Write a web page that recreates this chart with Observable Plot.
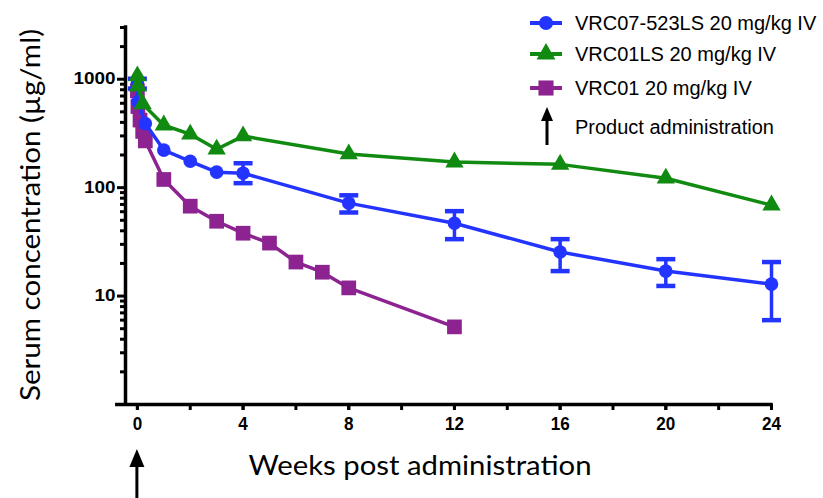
<!DOCTYPE html>
<html><head><meta charset="utf-8">
<script src="https://cdn.jsdelivr.net/npm/d3@7"></script>
<script src="https://cdn.jsdelivr.net/npm/@observablehq/plot@0.6"></script>
<style>body{margin:0;background:#fff}</style>
</head><body><div id="chart"></div>
<script>
// ---- data ----
const seriesNames = ["VRC07-523LS 20 mg/kg IV", "VRC01LS 20 mg/kg IV", "VRC01 20 mg/kg IV"];
const seriesColors = ["#2334ff", "#118a11", "#8c2391"];
const seriesSymbols = ["circle", "triangle", "square"];

const vrc07Weeks  = [0, 0.02, 0.3, 1, 2, 3, 4, 8, 12, 16, 20, 24];
const vrc07Values = [920, 620, 390, 222, 175, 139, 136, 72, 47, 25.5, 17, 12.9];
const vrc07ErrWeeks = [0, 4, 8, 12, 16, 20, 24];
const vrc07ErrLow   = [820, 110, 59, 33.5, 17, 12.4, 6];
const vrc07ErrHigh  = [1010, 168, 85, 60.7, 33.5, 21.9, 20.6];

const vrc01lsWeeks  = [0, 0.02, 0.2, 1, 2, 3, 4, 8, 12, 16, 20, 24];
const vrc01lsValues = [1070, 860, 590, 377, 311, 226, 299, 204, 172, 164, 122, 69];

const vrc01Weeks  = [0, 0.02, 0.1, 0.2, 0.3, 1, 2, 3, 4, 5, 6, 7, 8, 12];
const vrc01Values = [780, 560, 420, 330, 270, 119, 67.5, 49, 38, 30.8, 20.6, 16.6, 11.9, 5.2];

const yMajorTicks = [10, 100, 1000];
const yMinorTicks = [2,3,4,5,6,7,8,9,20,30,40,50,60,70,80,90,200,300,400,500,600,700,800,900,2000,3000];
const xMinorTicks = [0,2,4,6,8,10,12,14,16,18,20,22,24];
const xLabelTicks = [0,4,8,12,16,20,24];

const yTitle = "Serum concentration (µg/ml)";
const xTitle = "Weeks post administration";
const arrowLabel = "Product administration";

// ---- build tables ----
const mk = (name, w, v) => w.map((x, i) => ({series: name, week: x, value: v[i]}));
const seriesRows = [
  mk(seriesNames[0], vrc07Weeks, vrc07Values),
  mk(seriesNames[1], vrc01lsWeeks, vrc01lsValues),
  mk(seriesNames[2], vrc01Weeks, vrc01Values)
];
const errRows = vrc07ErrWeeks.map((w, i) => ({week: w, low: vrc07ErrLow[i], high: vrc07ErrHigh[i]}));
const capRows = errRows.flatMap(d => [{week: d.week, y: d.low}, {week: d.week, y: d.high}]);

const capSymbol = {draw(ctx, size) { const w = Math.sqrt(size / Math.PI); ctx.moveTo(-w, 0); ctx.lineTo(w, 0); }};
const dotR = [6.8, 6.8, 8.3];

const xMin = -0.45, xAxisStart = -0.76;
const drawOrder = [2, 0, 1];
const marks = [];
for (const i of drawOrder) {
  marks.push(Plot.line(seriesRows[i], {x: "week", y: "value", stroke: seriesColors[i], strokeWidth: 3.5}));
  if (i === 0) {
    marks.push(Plot.ruleX(errRows, {x: "week", y1: "low", y2: "high", stroke: seriesColors[0], strokeWidth: 3.5}));
    marks.push(Plot.dot(capRows, {x: "week", y: "y", symbol: capSymbol, r: 9.5, stroke: seriesColors[0], strokeWidth: 4.5, fill: "none"}));
  }
  marks.push(Plot.dot(seriesRows[i], {x: "week", y: "value", symbol: seriesSymbols[i], r: dotR[i], fill: seriesColors[i], stroke: "none"}));
}

const chart = Plot.plot({
  width: 823, height: 498,
  marginLeft: 125, marginRight: 52, marginTop: 27, marginBottom: 94,
  style: {fontFamily: "'Liberation Sans', Arial, sans-serif", background: "#fff", color: "#000"},
  x: {domain: [xMin, 24]},
  y: {type: "log", domain: [1, 3000]},
  marks: [
    Plot.axisY(yMinorTicks, {tickSize: 5, tickFormat: () => "", strokeWidth: 3, label: null}),
    Plot.axisY(yMajorTicks, {tickSize: 8, tickPadding: 2, fontSize: 16, fontWeight: "bold", strokeWidth: 3, tickFormat: d => String(d), label: null}),
    Plot.axisX(xMinorTicks, {tickSize: 6, tickFormat: () => "", strokeWidth: 3, label: null}),
    Plot.axisX(xLabelTicks, {tickSize: 6, tickPadding: 6, fontSize: 19, fontWeight: "bold", strokeWidth: 3, tickFormat: d => String(d), label: null}),
    Plot.ruleX([xMin], {y1: 1, y2: 3000, strokeWidth: 3.5, stroke: "#000"}),
    Plot.ruleY([1], {x1: xAxisStart, x2: 24, strokeWidth: 3.5, stroke: "#000"}),
    ...marks
  ]
});
document.getElementById("chart").appendChild(chart);

const svg = d3.select(chart);
svg.selectAll('g[aria-label="y-axis tick"], g[aria-label="x-axis tick"]').attr("stroke-width", 3).attr("stroke", "#000");
svg.selectAll('g[aria-label="rule"]').filter(function() { return !this.getAttribute("stroke") || this.getAttribute("stroke") === "#000"; })
  .attr("stroke-width", 3.5).attr("stroke-linecap", "square");
svg.selectAll('g[aria-label="y-axis tick label"] text').each(function() {
  const t = this.textContent; if (t) { this.setAttribute("textLength", t.length * 10.5); this.setAttribute("lengthAdjust", "spacingAndGlyphs"); }
});
svg.selectAll('g[aria-label="x-axis tick label"] text').each(function() {
  const t = this.textContent; if (t) { this.setAttribute("textLength", t.length * 9.5); this.setAttribute("lengthAdjust", "spacingAndGlyphs"); }
});

const xs = chart.scale("x");
// axis titles
svg.append("text").attr("transform", "translate(40,215) rotate(-90)").attr("text-anchor", "middle")
  .attr("font-family", "Lato, 'Open Sans', sans-serif").attr("font-size", 27)
  .attr("textLength", 372).attr("lengthAdjust", "spacingAndGlyphs").text(yTitle);
svg.append("text").attr("x", 420).attr("y", 475).attr("text-anchor", "middle")
  .attr("font-family", "Lato, 'Open Sans', sans-serif").attr("font-size", 27)
  .attr("textLength", 343).attr("lengthAdjust", "spacingAndGlyphs").text(xTitle);

// arrow under x = 0
function arrow(g, x, yTip, yEnd, hw, hl) {
  g.append("line").attr("x1", x).attr("x2", x).attr("y1", yTip + hl - 1).attr("y2", yEnd).attr("stroke", "#000").attr("stroke-width", 3);
  g.append("path").attr("d", `M${x},${yTip}L${x - hw},${yTip + hl}L${x + hw},${yTip + hl}Z`).attr("fill", "#000");
}
arrow(svg, xs.apply(0), 449, 498, 7.5, 18);

// legend
const lg = svg.append("g").attr("text-anchor", "start");
const rowY = [23, 54, 88];
const symR = [7, 7, 8.5];
seriesNames.forEach((name, i) => {
  lg.append("line").attr("x1", 530).attr("x2", 562).attr("y1", rowY[i]).attr("y2", rowY[i])
    .attr("stroke", seriesColors[i]).attr("stroke-width", 4);
  lg.append("path").attr("transform", `translate(546,${rowY[i]})`)
    .attr("d", d3.symbol(seriesSymbols[i] === "circle" ? d3.symbolCircle : seriesSymbols[i] === "triangle" ? d3.symbolTriangle : d3.symbolSquare, Math.PI * symR[i] * symR[i])())
    .attr("fill", seriesColors[i]);
  lg.append("text").attr("x", 575).attr("y", rowY[i] + 7).attr("text-anchor", "start").attr("font-family", "'Liberation Sans', Arial, sans-serif")
    .attr("font-size", 20).text(name);
});
arrow(lg, 547, 107, 145, 6, 14);
lg.append("text").attr("x", 575).attr("y", 134).attr("text-anchor", "start").attr("font-family", "'Liberation Sans', Arial, sans-serif")
  .attr("font-size", 20).text(arrowLabel);
</script>
</body></html>
